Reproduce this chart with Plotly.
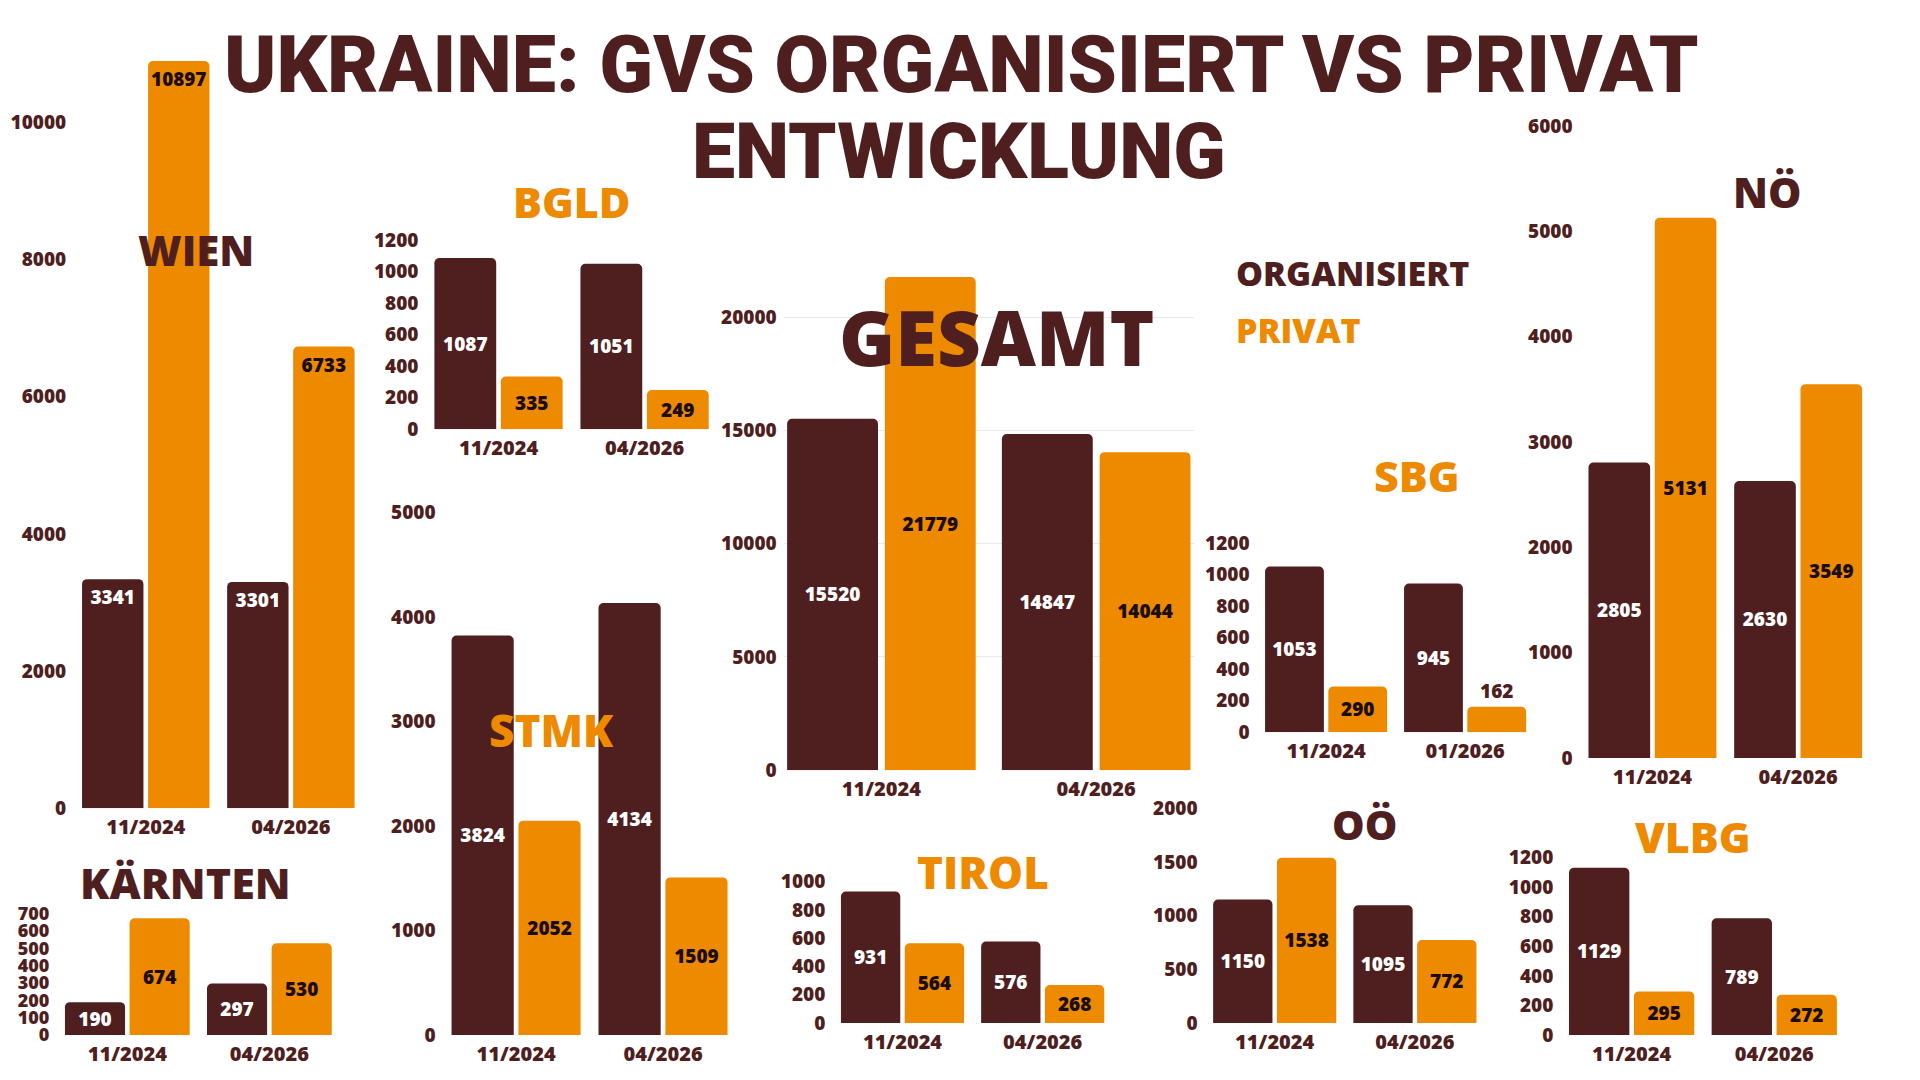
import plotly.graph_objects as go

W, H = 1920, 1080
BROWN = "#4F1F1F"
ORANGE = "#EE8A00"
DARK = "#1C0D0D"
FONT = "Open Sans"
TITLE_FONT = "Roboto"

# ---------------- data ----------------
cats_std = ["11/2024", "04/2026"]
cats_sbg = ["11/2024", "01/2026"]

wien_org = [3341, 3301]
wien_priv = [10897, 6733]
bgld_org = [1087, 1051]
bgld_priv = [335, 249]
gesamt_org = [15520, 14847]
gesamt_priv = [21779, 14044]
sbg_org = [1053, 945]
sbg_priv = [290, 162]
noe_org = [2805, 2630]
noe_priv = [5131, 3549]
ktn_org = [190, 297]
ktn_priv = [674, 530]
stmk_org = [3824, 4134]
stmk_priv = [2052, 1509]
tirol_org = [931, 576]
tirol_priv = [564, 268]
ooe_org = [1150, 1095]
ooe_priv = [1538, 772]
vlbg_org = [1129, 789]
vlbg_priv = [295, 272]

wien_ticks = [0, 2000, 4000, 6000, 8000, 10000]
bgld_ticks = [0, 200, 400, 600, 800, 1000, 1200]
gesamt_ticks = [0, 5000, 10000, 15000, 20000, 25000]
sbg_ticks = [0, 200, 400, 600, 800, 1000, 1200]
noe_ticks = [0, 1000, 2000, 3000, 4000, 5000, 6000]
ktn_ticks = [0, 100, 200, 300, 400, 500, 600, 700]
stmk_ticks = [0, 1000, 2000, 3000, 4000, 5000]
tirol_ticks = [0, 200, 400, 600, 800, 1000]
ooe_ticks = [0, 500, 1000, 1500, 2000]
vlbg_ticks = [0, 200, 400, 600, 800, 1000, 1200]


# vertical pixel -> paper fraction (with small correction for the rendered page)
def ypix(t):
    return (t - 10.3) / 0.978


def yfrac(t):
    return 1 - ypix(t) / H


# ---------------- layout geometry (pixels) ----------------
panels = [
    dict(cats=cats_std, org=wien_org, priv=wien_priv, ticks=wien_ticks,
         xpx=(73.2, 363.4), y0=808.2, ref=(10000, 123.7), ymax=11500, anchor="end"),
    dict(cats=cats_std, org=bgld_org, priv=bgld_priv, ticks=bgld_ticks,
         xpx=(425.5, 717.6), y0=429.8, ref=(1200, 241.2), ymax=1250),
    dict(cats=cats_std, org=gesamt_org, priv=gesamt_priv, ticks=gesamt_ticks,
         xpx=(783.7, 1193.9), y0=770.2, ref=(25000, 205.0), ymax=25000,
         grid=True, xr=[-0.455, 1.455], hide_top=True),
    dict(cats=cats_sbg, org=sbg_org, priv=sbg_priv, ticks=sbg_ticks,
         xpx=(1256.6, 1534.6), y0=732.3, ref=(1200, 543.7), ymax=1250,
         priv_pos=["inside", "outside"]),
    dict(cats=cats_std, org=noe_org, priv=noe_priv, ticks=noe_ticks,
         xpx=(1579.6, 1871.0), y0=758.0, ref=(6000, 127.3), ymax=6200),
    dict(cats=cats_std, org=ktn_org, priv=ktn_priv, ticks=ktn_ticks,
         xpx=(56.3, 340.4), y0=1034.7, ref=(700, 913.5), ymax=720, tsize=18),
    dict(cats=cats_std, org=stmk_org, priv=stmk_priv, ticks=stmk_ticks,
         xpx=(442.6, 736.5), y0=1034.7, ref=(5000, 513.0), ymax=5100),
    dict(cats=cats_std, org=tirol_org, priv=tirol_priv, ticks=tirol_ticks,
         xpx=(832.4, 1112.8), y0=1022.5, ref=(1000, 881.6), ymax=1030),
    dict(cats=cats_std, org=ooe_org, priv=ooe_priv, ticks=ooe_ticks,
         xpx=(1204.6, 1485.0), y0=1022.5, ref=(2000, 808.2), ymax=2050),
    dict(cats=cats_std, org=vlbg_org, priv=vlbg_priv, ticks=vlbg_ticks,
         xpx=(1560.3, 1845.6), y0=1034.7, ref=(1200, 857.2), ymax=1230),
]

fig = go.Figure()
layout = dict(
    width=W, height=H, margin=dict(l=0, r=0, t=0, b=0),
    paper_bgcolor="white", plot_bgcolor="rgba(0,0,0,0)",
    barmode="group", bargap=0.09, bargroupgap=0.07,
    showlegend=False,
)

for i, p in enumerate(panels, start=1):
    s = "" if i == 1 else str(i)
    vref, pref = p["ref"]
    ppu = (p["y0"] - pref) / vref
    top = p["y0"] - p["ymax"] * ppu
    ydom = [yfrac(p["y0"]), yfrac(top)]
    xdom = [p["xpx"][0] / W, p["xpx"][1] / W]
    anchor = p.get("anchor", "middle")
    priv_pos = p.get("priv_pos", "inside")

    fig.add_trace(go.Bar(
        x=p["cats"], y=p["org"], xaxis="x" + s, yaxis="y" + s,
        marker=dict(color=BROWN, cornerradius=5, line=dict(width=0)),
        texttemplate="%{y:.0f}", textposition="inside", insidetextanchor=anchor,
        textangle=0, constraintext="none",
        insidetextfont=dict(color="white", family=FONT, size=19, weight=800),
        hoverinfo="skip", cliponaxis=False,
    ))
    fig.add_trace(go.Bar(
        x=p["cats"], y=p["priv"], xaxis="x" + s, yaxis="y" + s,
        marker=dict(color=ORANGE, cornerradius=5, line=dict(width=0)),
        texttemplate="%{y:.0f}", textposition=priv_pos, insidetextanchor=anchor,
        textangle=0, constraintext="none",
        insidetextfont=dict(color=DARK, family=FONT, size=19, weight=800),
        outsidetextfont=dict(color=BROWN, family=FONT, size=19, weight=800),
        hoverinfo="skip", cliponaxis=False,
    ))

    ticktext = [str(t) for t in p["ticks"]]
    if p.get("hide_top"):
        ticktext[-1] = ""
    layout["xaxis" + s] = dict(
        domain=xdom, anchor="y" + s, type="category",
        range=p.get("xr", [-0.5, 1.5]),
        showgrid=False, zeroline=False, showline=False, ticks="",
        tickfont=dict(family=FONT, size=20, color=BROWN, weight=800),
        ticklabelstandoff=5, fixedrange=True,
    )
    layout["yaxis" + s] = dict(
        domain=ydom, anchor="x" + s, range=[0, p["ymax"]],
        tickvals=p["ticks"], ticktext=ticktext,
        showgrid=bool(p.get("grid")), gridcolor="#E9E9E9", gridwidth=1,
        zeroline=False, showline=False, ticks="",
        tickfont=dict(family=FONT, size=p.get("tsize", 19), color=BROWN, weight=800),
        ticklabelstandoff=6, fixedrange=True,
    )

fig.update_layout(**layout)


def label(text, xpx, ypx, size, color, xanchor="center", family=FONT, weight=800):
    fig.add_annotation(
        text=text, x=xpx / W, y=yfrac(ypx), xref="paper", yref="paper",
        xanchor=xanchor, yanchor="middle", showarrow=False,
        font=dict(family=family, size=size, color=color, weight=weight),
    )


# main title
label("UKRAINE: GVS ORGANISIERT VS PRIVAT", 961, 66, 79, BROWN, family=TITLE_FONT, weight=900)
label("ENTWICKLUNG", 959, 153, 77, BROWN, family=TITLE_FONT, weight=900)

# legend
label("ORGANISIERT", 1234, 274, 34, BROWN, xanchor="left")
label("PRIVAT", 1234, 331, 34, ORANGE, xanchor="left")

# panel titles
label("WIEN", 196, 250, 42, BROWN)
label("BGLD", 571, 202, 43, ORANGE)
label("GESAMT", 996, 337, 76, BROWN)
label("SBG", 1417, 476, 43, ORANGE)
label("NÖ", 1767, 192, 42, BROWN)
label("KÄRNTEN", 185, 882, 43, BROWN)
label("STMK", 551, 730, 44, ORANGE)
label("TIROL", 983, 872, 44, ORANGE)
label("OÖ", 1364, 824, 41, BROWN)
label("VLBG", 1693, 836, 43, ORANGE)

fig.write_html("out.html")
